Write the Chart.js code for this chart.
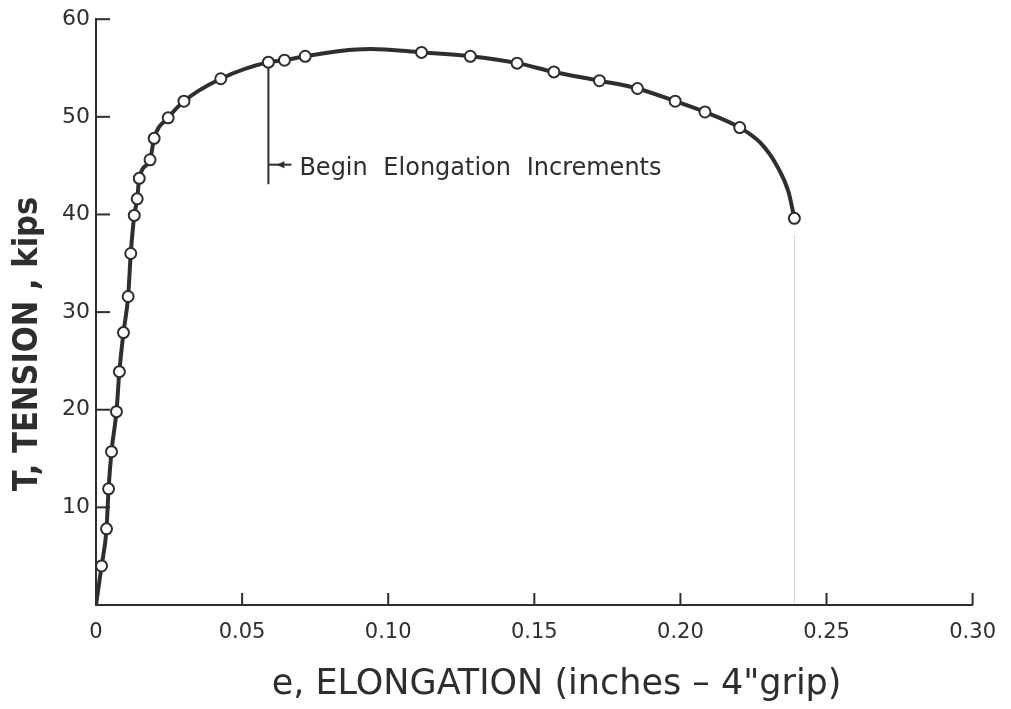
<!DOCTYPE html>
<html>
<head>
<meta charset="utf-8">
<script src="https://cdn.jsdelivr.net/npm/chart.js@4.4.1/dist/chart.umd.min.js"></script>
<style>
  body { margin: 0; background: #fff; }
</style>
</head>
<body>
<canvas id="grafica" width="1011" height="709"></canvas>
<script>
// Puntos de ensayo (alargamiento en pulgadas, tension en kips)
const testElong = [0.0019, 0.0036, 0.0043, 0.0053, 0.0070, 0.0080, 0.0094, 0.0110, 0.0119, 0.0131,
                   0.0141, 0.0148, 0.0185, 0.0199, 0.0247, 0.0301, 0.0427, 0.0590, 0.0645, 0.0716,
                   0.1114, 0.1281, 0.1441, 0.1567, 0.1723, 0.1853, 0.1982, 0.2084, 0.2203, 0.2390];
const testTension = [4.0, 7.8, 11.9, 15.7, 19.8, 23.9, 27.9, 31.6, 36.0, 39.9,
                     41.6, 43.7, 45.6, 47.8, 49.9, 51.6, 53.9, 55.6, 55.8, 56.2,
                     56.6, 56.2, 55.5, 54.6, 53.7, 52.9, 51.6, 50.5, 48.9, 39.6];

// Puntos extra de la curva dibujada (origen, pico y caida final)
const curveElong = [0, 0.0835, 0.0940, 0.2275, 0.2330, 0.2370];
const curveTension = [0, 56.75, 56.95, 47.3, 45.0, 42.3];

const xTicks = [0, 0.05, 0.10, 0.15, 0.20, 0.25, 0.30];
const yTicks = [10, 20, 30, 40, 50, 60];

const beginElong = 0.0590;   // "Begin Elongation Increments"
const beginLabel = "Begin Elongation Increments";

const ink = "#2e2e2e";

const testPts = testElong.map((x, i) => ({ x: x, y: testTension[i] }));
const curvePts = testPts
    .concat(curveElong.map((x, i) => ({ x: x, y: curveTension[i] })))
    .sort((a, b) => a.x - b.x);

// Marcas de los ejes hacia dentro y la nota
const notas = {
    id: "notas",
    beforeDatasetsDraw(chart) {
        const { ctx, scales: { x, y } } = chart;
        ctx.save();
        ctx.strokeStyle = ink;
        ctx.lineWidth = 2;
        const x0 = x.getPixelForValue(0);
        const y0 = y.getPixelForValue(0);
        yTicks.forEach(v => {
            const py = y.getPixelForValue(v);
            ctx.beginPath();
            ctx.moveTo(x0, py);
            ctx.lineTo(x0 + 14, py);
            ctx.stroke();
        });
        xTicks.forEach(v => {
            if (v === 0) return;
            const px = x.getPixelForValue(v);
            ctx.beginPath();
            ctx.moveTo(px, y0);
            ctx.lineTo(px, y0 - 12);
            ctx.stroke();
        });
        // linea tenue bajo el ultimo punto
        const lx = x.getPixelForValue(testElong[testElong.length - 1]);
        ctx.strokeStyle = "#d4d4d4";
        ctx.lineWidth = 1;
        ctx.beginPath();
        ctx.moveTo(lx, y.getPixelForValue(38));
        ctx.lineTo(lx, y0 - 2);
        ctx.stroke();
        ctx.restore();
    },
    afterDatasetsDraw(chart) {
        const { ctx, scales: { x, y } } = chart;
        const bx = x.getPixelForValue(beginElong);
        ctx.save();
        ctx.strokeStyle = ink;
        ctx.fillStyle = ink;
        ctx.lineWidth = 2;
        ctx.beginPath();
        ctx.moveTo(bx, y.getPixelForValue(55.0));
        ctx.lineTo(bx, y.getPixelForValue(43.1));
        ctx.stroke();
        const ay = y.getPixelForValue(45.1);
        ctx.beginPath();
        ctx.moveTo(bx, ay);
        ctx.lineTo(bx + 23, ay);
        ctx.stroke();
        ctx.beginPath();
        ctx.moveTo(bx + 8, ay);
        ctx.lineTo(bx + 16, ay - 3.5);
        ctx.lineTo(bx + 16, ay + 3.5);
        ctx.closePath();
        ctx.fill();
        ctx.font = "24px 'DejaVu Sans'";
        ctx.textBaseline = "alphabetic";
        ctx.textAlign = "left";
        if ("wordSpacing" in ctx) ctx.wordSpacing = "8px";
        ctx.fillText(beginLabel, bx + 31, y.getPixelForValue(44.0));
        ctx.restore();
    }
};

const chart = new Chart(document.getElementById("grafica").getContext("2d"), {
    type: "scatter",
    data: {
        datasets: [
            {
                label: "Curva",
                data: curvePts,
                showLine: true,
                borderColor: ink,
                borderWidth: 4,
                pointRadius: 0,
                cubicInterpolationMode: "monotone",
                order: 2
            },
            {
                label: "Ensayo",
                data: testPts,
                showLine: false,
                pointRadius: 5.5,
                pointBorderWidth: 2,
                pointBackgroundColor: "#ffffff",
                pointBorderColor: ink,
                order: 1
            }
        ]
    },
    options: {
        responsive: false,
        animation: false,
        layout: { padding: { left: 0, right: 34, top: 16, bottom: 0 } },
        plugins: {
            legend: { display: false },
            tooltip: { enabled: false }
        },
        scales: {
            x: {
                type: "linear",
                min: 0,
                max: 0.30,
                afterFit: s => { s.height = 104; },
                afterBuildTicks: s => { s.ticks = xTicks.map(v => ({ value: v })); },
                grid: { display: false, drawTicks: false },
                border: { display: true, color: ink, width: 2 },
                ticks: {
                    color: ink,
                    padding: 15,
                    maxRotation: 0,
                    autoSkip: false,
                    font: { family: "'DejaVu Sans'", size: 21 },
                    callback: v => (v === 0 ? "0" : v.toFixed(2))
                },
                title: {
                    display: true,
                    text: "    e, ELONGATION (inches \u2013 4\"grip)",
                    color: ink,
                    padding: { top: 0, bottom: 3 },
                    font: { family: "'DejaVu Sans'", size: 35 }
                }
            },
            y: {
                type: "linear",
                min: 0,
                max: 60,
                afterFit: s => { s.width = 96; },
                afterBuildTicks: s => { s.ticks = [0].concat(yTicks).map(v => ({ value: v })); },
                grid: { display: false, drawTicks: false },
                border: { display: true, color: ink, width: 2 },
                ticks: {
                    color: ink,
                    padding: 6,
                    autoSkip: false,
                    font: { family: "'DejaVu Sans'", size: 22 },
                    callback: v => (v === 0 ? "" : v)
                },
                title: {
                    display: true,
                    text: "T, TENSION , kips      ",
                    color: ink,
                    padding: { top: 8, bottom: 0 },
                    font: { family: "'DejaVu Sans Condensed'", size: 34, weight: "bold" }
                }
            }
        }
    },
    plugins: [notas]
});
</script>
</body>
</html>
